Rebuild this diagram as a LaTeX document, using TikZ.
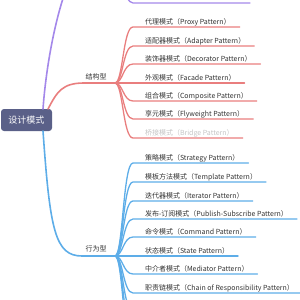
\documentclass[tikz,border=0pt]{standalone}
\usepackage{fontspec}
\setmainfont{Noto Sans CJK SC}
\usetikzlibrary{positioning,calc}
\definecolor{rootfill}{HTML}{5A6088}
\definecolor{redbr}{HTML}{E97E7E}
\definecolor{bluebr}{HTML}{5DADE8}
\definecolor{purplebr}{HTML}{A488EA}
\definecolor{leafgray}{HTML}{C4C4C4}
\begin{document}
\begin{tikzpicture}[x=1pt, y=-1pt,
  every node/.style={inner sep=0pt, outer sep=0pt, font=\fontsize{7}{8}\selectfont, text=black!80},
  rootbox/.style={fill=rootfill, rounded corners=3pt, minimum width=51pt, minimum height=22pt, text=white, font=\fontsize{9}{10}\selectfont},
  group/.style={anchor=center},
  leaf/.style={anchor=west},
  trunk/.style={line width=1.6pt, line cap=round},
  twig/.style={line width=1.3pt, line cap=round}]
  \useasboundingbox (0,0) rectangle (300,300);
  \clip (0,0) rectangle (300,300);
  \node (root) [rootbox] at (26.5,120) {设计模式};
  % creational, only its last twig shows
  \coordinate (cLeft) at (82,-34);
  \coordinate (cHub) at (115,-34);
  \coordinate (proto) at (133,3);
  \coordinate (protoEnd) at (250,3);
  \draw[trunk, purplebr] ($(root.north east)+(-9,0)$) .. controls +(5,-69) and +(-14,0) .. (cLeft) -- (cHub);
  \draw[twig, purplebr] (cHub) .. controls +(8,0) and +(-10,0) .. (proto) -- (protoEnd);
  % structural
  \coordinate (sLeft) at (84,83);
  \coordinate (sHub) at (115,83);
  \node (struct) [group] at (96,77) {结构型};
  \draw[trunk, redbr] ($(root.north east)+(-4,0)$) .. controls +(9,-17) and +(-22,0) .. (sLeft) -- (sHub);
  \node (proxy) [leaf] at (145,22) {代理模式（Proxy Pattern）};
  \node (adapter) [leaf] at (145,41) {适配器模式（Adapter Pattern）};
  \node (decorator) [leaf] at (145,59) {装饰器模式（Decorator Pattern）};
  \node (facade) [leaf] at (145,78) {外观模式（Facade Pattern）};
  \node (composite) [leaf] at (145,96) {组合模式（Composite Pattern）};
  \node (flyweight) [leaf] at (145,114) {享元模式（Flyweight Pattern）};
  \node (bridge) [leaf, text=leafgray] at (145,133) {桥接模式（Bridge Pattern）};
  \draw[twig, redbr] (sHub) .. controls +(8,0) and +(-10,0) .. ($(proxy.west)+(-12,5)$) -- ($(proxy.east)+(9,5)$);
  \draw[twig, redbr] (sHub) .. controls +(8,0) and +(-10,0) .. ($(adapter.west)+(-12,5)$) -- ($(adapter.east)+(9,5)$);
  \draw[twig, redbr] (sHub) .. controls +(8,0) and +(-10,0) .. ($(decorator.west)+(-12,5)$) -- ($(decorator.east)+(9,5)$);
  \draw[twig, redbr] (sHub) -- ($(facade.west)+(-12,5)$) -- ($(facade.east)+(9,5)$);
  \draw[twig, redbr] (sHub) .. controls +(8,0) and +(-10,0) .. ($(composite.west)+(-12,5)$) -- ($(composite.east)+(9,5)$);
  \draw[twig, redbr] (sHub) .. controls +(8,0) and +(-10,0) .. ($(flyweight.west)+(-12,5)$) -- ($(flyweight.east)+(9,5)$);
  \draw[twig, redbr] (sHub) .. controls +(8,0) and +(-10,0) .. ($(bridge.west)+(-12,5)$) -- ($(bridge.east)+(9,5)$);
  % behavioral
  \coordinate (bLeft) at (82,256);
  \coordinate (bHub) at (115,256);
  \node (behav) [group] at (96,249) {行为型};
  \draw[trunk, bluebr] ($(root.south east)+(-9,0)$) .. controls +(7,99) and +(-27,0) .. (bLeft) -- (bHub);
  \node (strategy) [leaf] at (145,158) {策略模式（Strategy Pattern）};
  \node (template) [leaf] at (145,177) {模板方法模式（Template Pattern）};
  \node (iterator) [leaf] at (145,196) {迭代器模式（Iterator Pattern）};
  \node (pubsub) [leaf] at (145,214) {发布-订阅模式（Publish-Subscribe Pattern）};
  \node (command) [leaf] at (145,232) {命令模式（Command Pattern）};
  \node (state) [leaf] at (145,251) {状态模式（State Pattern）};
  \node (mediator) [leaf] at (145,269) {中介者模式（Mediator Pattern）};
  \node (chain) [leaf] at (145,288) {职责链模式（Chain of Responsibility Pattern）};
  \coordinate (more1) at (133,311);
  \coordinate (more2) at (133,330);
  \coordinate (more3) at (133,348);
  \draw[twig, bluebr] (bHub) .. controls +(8,0) and +(-10,0) .. ($(strategy.west)+(-12,5)$) -- ($(strategy.east)+(9,5)$);
  \draw[twig, bluebr] (bHub) .. controls +(8,0) and +(-10,0) .. ($(template.west)+(-12,5)$) -- ($(template.east)+(9,5)$);
  \draw[twig, bluebr] (bHub) .. controls +(8,0) and +(-10,0) .. ($(iterator.west)+(-12,5)$) -- ($(iterator.east)+(9,5)$);
  \draw[twig, bluebr] (bHub) .. controls +(8,0) and +(-10,0) .. ($(pubsub.west)+(-12,5)$) -- ($(pubsub.east)+(9,5)$);
  \draw[twig, bluebr] (bHub) .. controls +(8,0) and +(-10,0) .. ($(command.west)+(-12,5)$) -- ($(command.east)+(9,5)$);
  \draw[twig, bluebr] (bHub) -- ($(state.west)+(-12,5)$) -- ($(state.east)+(9,5)$);
  \draw[twig, bluebr] (bHub) .. controls +(8,0) and +(-10,0) .. ($(mediator.west)+(-12,5)$) -- ($(mediator.east)+(9,5)$);
  \draw[twig, bluebr] (bHub) .. controls +(8,0) and +(-10,0) .. ($(chain.west)+(-12,5)$) -- ($(chain.east)+(9,5)$);
  \draw[twig, bluebr] (bHub) .. controls +(8,0) and +(-10,0) .. (more1);
  \draw[twig, bluebr] (bHub) .. controls +(8,0) and +(-10,0) .. (more2);
  \draw[twig, bluebr] (bHub) .. controls +(8,0) and +(-10,0) .. (more3);
\end{tikzpicture}
\end{document}
